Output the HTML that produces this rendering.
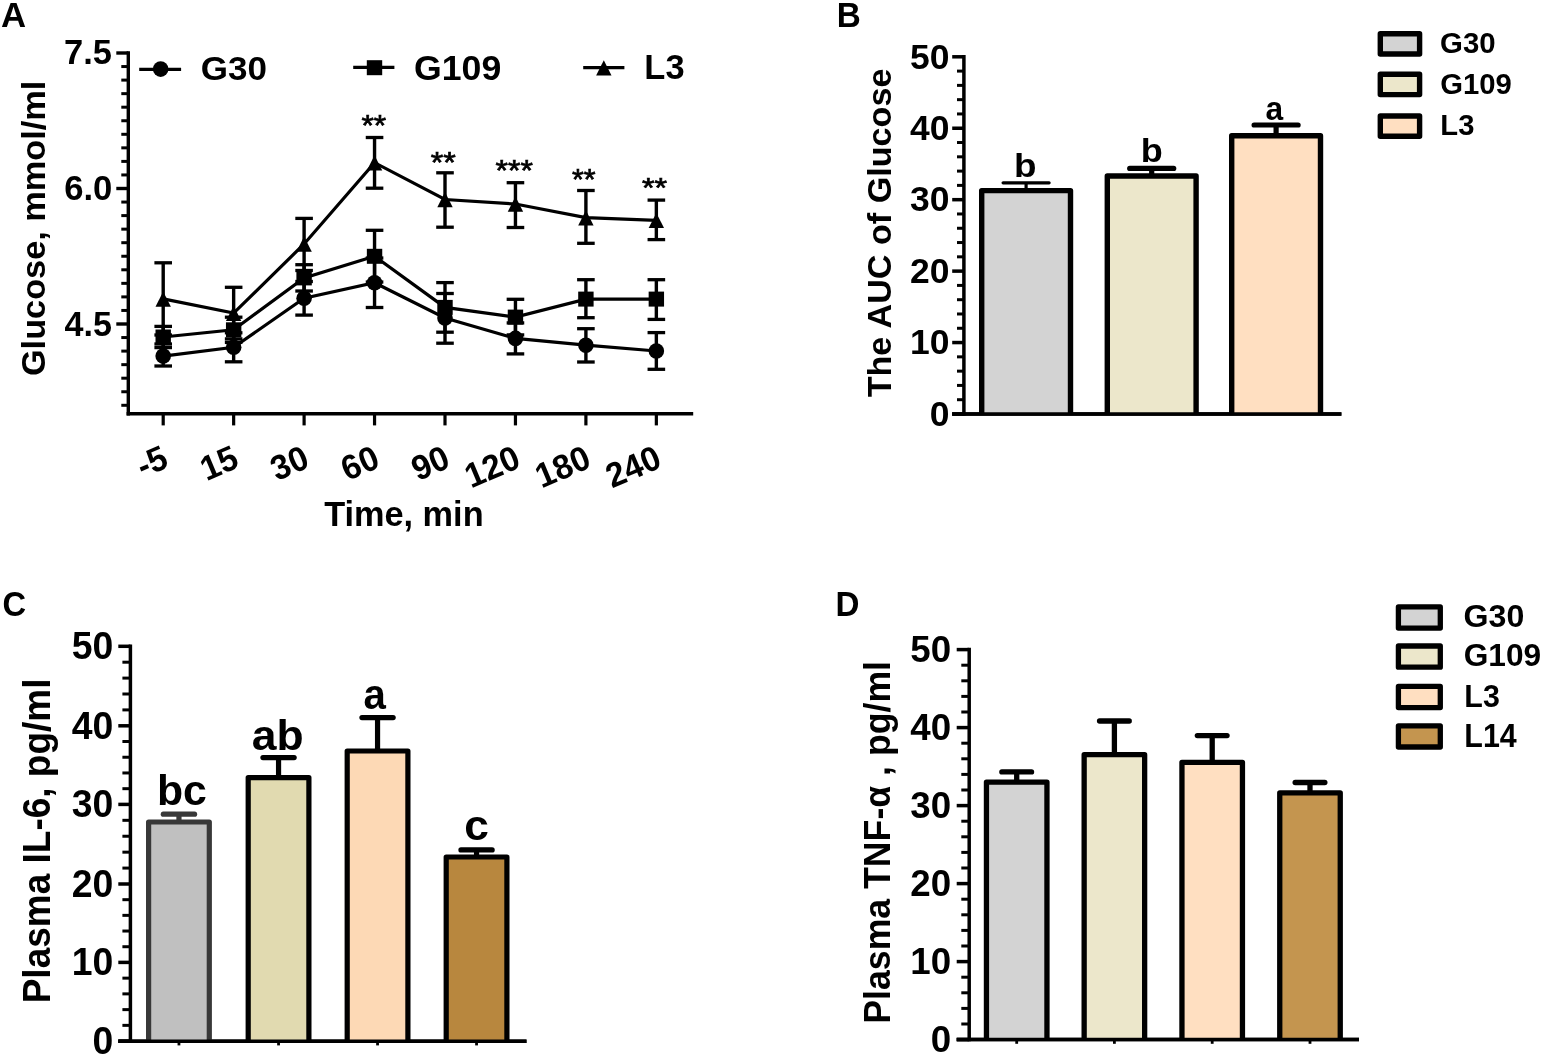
<!DOCTYPE html>
<html><head><meta charset="utf-8"><title>Figure</title>
<style>html,body{margin:0;padding:0;background:#fff}svg{display:block}text{font-family:"Liberation Sans",sans-serif}</style>
</head><body>
<svg width="1550" height="1064" viewBox="0 0 1550 1064">
<rect x="0" y="0" width="1550" height="1064" fill="#fff"/>
<text transform="translate(1.03,27.00) scale(0.9921,1)" font-weight="bold" font-size="35.05" fill="#000" >A</text>
<text transform="translate(836.65,27.00) scale(0.9493,1)" font-weight="bold" font-size="35.05" fill="#000" >B</text>
<text transform="translate(2.49,615.76) scale(0.9512,1)" font-weight="bold" font-size="34.35" fill="#000" >C</text>
<text transform="translate(835.56,616.10) scale(0.9377,1)" font-weight="bold" font-size="35.35" fill="#000" >D</text>
<line x1="128.30" y1="51.30" x2="128.30" y2="415.40" stroke="#000" stroke-width="3.4" stroke-linecap="butt"/>
<line x1="126.60" y1="413.70" x2="693.20" y2="413.70" stroke="#000" stroke-width="3.4" stroke-linecap="butt"/>
<line x1="116.30" y1="53.00" x2="128.30" y2="53.00" stroke="#000" stroke-width="3.4" stroke-linecap="butt"/>
<line x1="121.30" y1="66.55" x2="128.30" y2="66.55" stroke="#000" stroke-width="3.0" stroke-linecap="butt"/>
<line x1="121.30" y1="80.10" x2="128.30" y2="80.10" stroke="#000" stroke-width="3.0" stroke-linecap="butt"/>
<line x1="121.30" y1="93.65" x2="128.30" y2="93.65" stroke="#000" stroke-width="3.0" stroke-linecap="butt"/>
<line x1="121.30" y1="107.20" x2="128.30" y2="107.20" stroke="#000" stroke-width="3.0" stroke-linecap="butt"/>
<line x1="121.30" y1="120.75" x2="128.30" y2="120.75" stroke="#000" stroke-width="3.0" stroke-linecap="butt"/>
<line x1="121.30" y1="134.30" x2="128.30" y2="134.30" stroke="#000" stroke-width="3.0" stroke-linecap="butt"/>
<line x1="121.30" y1="147.85" x2="128.30" y2="147.85" stroke="#000" stroke-width="3.0" stroke-linecap="butt"/>
<line x1="121.30" y1="161.40" x2="128.30" y2="161.40" stroke="#000" stroke-width="3.0" stroke-linecap="butt"/>
<line x1="121.30" y1="174.95" x2="128.30" y2="174.95" stroke="#000" stroke-width="3.0" stroke-linecap="butt"/>
<line x1="116.30" y1="188.50" x2="128.30" y2="188.50" stroke="#000" stroke-width="3.4" stroke-linecap="butt"/>
<line x1="121.30" y1="202.05" x2="128.30" y2="202.05" stroke="#000" stroke-width="3.0" stroke-linecap="butt"/>
<line x1="121.30" y1="215.60" x2="128.30" y2="215.60" stroke="#000" stroke-width="3.0" stroke-linecap="butt"/>
<line x1="121.30" y1="229.15" x2="128.30" y2="229.15" stroke="#000" stroke-width="3.0" stroke-linecap="butt"/>
<line x1="121.30" y1="242.70" x2="128.30" y2="242.70" stroke="#000" stroke-width="3.0" stroke-linecap="butt"/>
<line x1="121.30" y1="256.25" x2="128.30" y2="256.25" stroke="#000" stroke-width="3.0" stroke-linecap="butt"/>
<line x1="121.30" y1="269.80" x2="128.30" y2="269.80" stroke="#000" stroke-width="3.0" stroke-linecap="butt"/>
<line x1="121.30" y1="283.35" x2="128.30" y2="283.35" stroke="#000" stroke-width="3.0" stroke-linecap="butt"/>
<line x1="121.30" y1="296.90" x2="128.30" y2="296.90" stroke="#000" stroke-width="3.0" stroke-linecap="butt"/>
<line x1="121.30" y1="310.45" x2="128.30" y2="310.45" stroke="#000" stroke-width="3.0" stroke-linecap="butt"/>
<line x1="116.30" y1="324.00" x2="128.30" y2="324.00" stroke="#000" stroke-width="3.4" stroke-linecap="butt"/>
<line x1="121.30" y1="337.55" x2="128.30" y2="337.55" stroke="#000" stroke-width="3.0" stroke-linecap="butt"/>
<line x1="121.30" y1="351.10" x2="128.30" y2="351.10" stroke="#000" stroke-width="3.0" stroke-linecap="butt"/>
<line x1="121.30" y1="364.65" x2="128.30" y2="364.65" stroke="#000" stroke-width="3.0" stroke-linecap="butt"/>
<line x1="121.30" y1="378.20" x2="128.30" y2="378.20" stroke="#000" stroke-width="3.0" stroke-linecap="butt"/>
<line x1="121.30" y1="391.75" x2="128.30" y2="391.75" stroke="#000" stroke-width="3.0" stroke-linecap="butt"/>
<line x1="121.30" y1="405.30" x2="128.30" y2="405.30" stroke="#000" stroke-width="3.0" stroke-linecap="butt"/>
<line x1="163.20" y1="413.70" x2="163.20" y2="425.40" stroke="#000" stroke-width="3.2" stroke-linecap="butt"/>
<line x1="233.65" y1="413.70" x2="233.65" y2="425.40" stroke="#000" stroke-width="3.2" stroke-linecap="butt"/>
<line x1="304.10" y1="413.70" x2="304.10" y2="425.40" stroke="#000" stroke-width="3.2" stroke-linecap="butt"/>
<line x1="374.55" y1="413.70" x2="374.55" y2="425.40" stroke="#000" stroke-width="3.2" stroke-linecap="butt"/>
<line x1="445.00" y1="413.70" x2="445.00" y2="425.40" stroke="#000" stroke-width="3.2" stroke-linecap="butt"/>
<line x1="515.45" y1="413.70" x2="515.45" y2="425.40" stroke="#000" stroke-width="3.2" stroke-linecap="butt"/>
<line x1="585.90" y1="413.70" x2="585.90" y2="425.40" stroke="#000" stroke-width="3.2" stroke-linecap="butt"/>
<line x1="656.35" y1="413.70" x2="656.35" y2="425.40" stroke="#000" stroke-width="3.2" stroke-linecap="butt"/>
<text transform="translate(64.04,64.34) scale(0.9695,1)" font-weight="bold" font-size="35.56" fill="#000" >7.5</text>
<text transform="translate(64.20,200.15) scale(0.9930,1)" font-weight="bold" font-size="34.91" fill="#000" >6.0</text>
<text transform="translate(64.49,335.65) scale(0.9640,1)" font-weight="bold" font-size="35.41" fill="#000" >4.5</text>
<text transform="translate(45.43,376.07) rotate(-90) scale(1,0.9539)" font-weight="bold" font-size="34.31">Glucose, mmol/ml</text>
<text transform="translate(324.16,526.18) scale(0.9995,1)" font-weight="bold" font-size="34.32" fill="#000" >Time, min</text>
<text transform="translate(170.20,466.60) rotate(-23) scale(0.97,1)" text-anchor="end" font-weight="bold" font-size="34.5">-5</text>
<text transform="translate(240.65,466.60) rotate(-23) scale(0.97,1)" text-anchor="end" font-weight="bold" font-size="34.5">15</text>
<text transform="translate(311.10,466.60) rotate(-23) scale(0.97,1)" text-anchor="end" font-weight="bold" font-size="34.5">30</text>
<text transform="translate(381.55,466.60) rotate(-23) scale(0.97,1)" text-anchor="end" font-weight="bold" font-size="34.5">60</text>
<text transform="translate(452.00,466.60) rotate(-23) scale(0.97,1)" text-anchor="end" font-weight="bold" font-size="34.5">90</text>
<text transform="translate(522.45,466.60) rotate(-23) scale(0.97,1)" text-anchor="end" font-weight="bold" font-size="34.5">120</text>
<text transform="translate(592.90,466.60) rotate(-23) scale(0.97,1)" text-anchor="end" font-weight="bold" font-size="34.5">180</text>
<text transform="translate(663.35,466.60) rotate(-23) scale(0.97,1)" text-anchor="end" font-weight="bold" font-size="34.5">240</text>
<polyline fill="none" stroke="#000" stroke-width="3.2" points="163.20,356.10 233.65,347.30 304.10,298.30 374.55,282.80 445.00,318.00 515.45,338.40 585.90,345.20 656.35,351.00"/>
<line x1="163.20" y1="344.00" x2="163.20" y2="366.00" stroke="#000" stroke-width="3.4" stroke-linecap="butt"/>
<line x1="154.40" y1="344.00" x2="172.00" y2="344.00" stroke="#000" stroke-width="3.3" stroke-linecap="butt"/>
<line x1="154.40" y1="366.00" x2="172.00" y2="366.00" stroke="#000" stroke-width="3.3" stroke-linecap="butt"/>
<circle cx="163.20" cy="356.10" r="7.8"/>
<line x1="233.65" y1="332.80" x2="233.65" y2="361.80" stroke="#000" stroke-width="3.4" stroke-linecap="butt"/>
<line x1="224.85" y1="332.80" x2="242.45" y2="332.80" stroke="#000" stroke-width="3.3" stroke-linecap="butt"/>
<line x1="224.85" y1="361.80" x2="242.45" y2="361.80" stroke="#000" stroke-width="3.3" stroke-linecap="butt"/>
<circle cx="233.65" cy="347.30" r="7.8"/>
<line x1="304.10" y1="281.50" x2="304.10" y2="315.10" stroke="#000" stroke-width="3.4" stroke-linecap="butt"/>
<line x1="295.30" y1="281.50" x2="312.90" y2="281.50" stroke="#000" stroke-width="3.3" stroke-linecap="butt"/>
<line x1="295.30" y1="315.10" x2="312.90" y2="315.10" stroke="#000" stroke-width="3.3" stroke-linecap="butt"/>
<circle cx="304.10" cy="298.30" r="7.8"/>
<line x1="374.55" y1="258.00" x2="374.55" y2="307.50" stroke="#000" stroke-width="3.4" stroke-linecap="butt"/>
<line x1="365.75" y1="258.00" x2="383.35" y2="258.00" stroke="#000" stroke-width="3.3" stroke-linecap="butt"/>
<line x1="365.75" y1="307.50" x2="383.35" y2="307.50" stroke="#000" stroke-width="3.3" stroke-linecap="butt"/>
<circle cx="374.55" cy="282.80" r="7.8"/>
<line x1="445.00" y1="293.50" x2="445.00" y2="343.20" stroke="#000" stroke-width="3.4" stroke-linecap="butt"/>
<line x1="436.20" y1="293.50" x2="453.80" y2="293.50" stroke="#000" stroke-width="3.3" stroke-linecap="butt"/>
<line x1="436.20" y1="343.20" x2="453.80" y2="343.20" stroke="#000" stroke-width="3.3" stroke-linecap="butt"/>
<circle cx="445.00" cy="318.00" r="7.8"/>
<line x1="515.45" y1="322.90" x2="515.45" y2="353.90" stroke="#000" stroke-width="3.4" stroke-linecap="butt"/>
<line x1="506.65" y1="322.90" x2="524.25" y2="322.90" stroke="#000" stroke-width="3.3" stroke-linecap="butt"/>
<line x1="506.65" y1="353.90" x2="524.25" y2="353.90" stroke="#000" stroke-width="3.3" stroke-linecap="butt"/>
<circle cx="515.45" cy="338.40" r="7.8"/>
<line x1="585.90" y1="328.70" x2="585.90" y2="362.00" stroke="#000" stroke-width="3.4" stroke-linecap="butt"/>
<line x1="577.10" y1="328.70" x2="594.70" y2="328.70" stroke="#000" stroke-width="3.3" stroke-linecap="butt"/>
<line x1="577.10" y1="362.00" x2="594.70" y2="362.00" stroke="#000" stroke-width="3.3" stroke-linecap="butt"/>
<circle cx="585.90" cy="345.20" r="7.8"/>
<line x1="656.35" y1="332.60" x2="656.35" y2="369.30" stroke="#000" stroke-width="3.4" stroke-linecap="butt"/>
<line x1="647.55" y1="332.60" x2="665.15" y2="332.60" stroke="#000" stroke-width="3.3" stroke-linecap="butt"/>
<line x1="647.55" y1="369.30" x2="665.15" y2="369.30" stroke="#000" stroke-width="3.3" stroke-linecap="butt"/>
<circle cx="656.35" cy="351.00" r="7.8"/>
<polyline fill="none" stroke="#000" stroke-width="3.2" points="163.20,337.00 233.65,329.80 304.10,277.90 374.55,256.30 445.00,307.40 515.45,317.10 585.90,299.10 656.35,299.10"/>
<line x1="163.20" y1="326.40" x2="163.20" y2="347.60" stroke="#000" stroke-width="3.4" stroke-linecap="butt"/>
<line x1="154.40" y1="326.40" x2="172.00" y2="326.40" stroke="#000" stroke-width="3.3" stroke-linecap="butt"/>
<line x1="154.40" y1="347.60" x2="172.00" y2="347.60" stroke="#000" stroke-width="3.3" stroke-linecap="butt"/>
<rect x="155.50" y="329.50" width="15.4" height="15"/>
<line x1="233.65" y1="317.20" x2="233.65" y2="342.40" stroke="#000" stroke-width="3.4" stroke-linecap="butt"/>
<line x1="224.85" y1="317.20" x2="242.45" y2="317.20" stroke="#000" stroke-width="3.3" stroke-linecap="butt"/>
<line x1="224.85" y1="342.40" x2="242.45" y2="342.40" stroke="#000" stroke-width="3.3" stroke-linecap="butt"/>
<rect x="225.95" y="322.30" width="15.4" height="15"/>
<line x1="304.10" y1="264.70" x2="304.10" y2="291.00" stroke="#000" stroke-width="3.4" stroke-linecap="butt"/>
<line x1="295.30" y1="264.70" x2="312.90" y2="264.70" stroke="#000" stroke-width="3.3" stroke-linecap="butt"/>
<line x1="295.30" y1="291.00" x2="312.90" y2="291.00" stroke="#000" stroke-width="3.3" stroke-linecap="butt"/>
<rect x="296.40" y="270.40" width="15.4" height="15"/>
<line x1="374.55" y1="230.30" x2="374.55" y2="282.00" stroke="#000" stroke-width="3.4" stroke-linecap="butt"/>
<line x1="365.75" y1="230.30" x2="383.35" y2="230.30" stroke="#000" stroke-width="3.3" stroke-linecap="butt"/>
<line x1="365.75" y1="282.00" x2="383.35" y2="282.00" stroke="#000" stroke-width="3.3" stroke-linecap="butt"/>
<rect x="366.85" y="248.80" width="15.4" height="15"/>
<line x1="445.00" y1="282.60" x2="445.00" y2="332.20" stroke="#000" stroke-width="3.4" stroke-linecap="butt"/>
<line x1="436.20" y1="282.60" x2="453.80" y2="282.60" stroke="#000" stroke-width="3.3" stroke-linecap="butt"/>
<line x1="436.20" y1="332.20" x2="453.80" y2="332.20" stroke="#000" stroke-width="3.3" stroke-linecap="butt"/>
<rect x="437.30" y="299.90" width="15.4" height="15"/>
<line x1="515.45" y1="299.30" x2="515.45" y2="334.90" stroke="#000" stroke-width="3.4" stroke-linecap="butt"/>
<line x1="506.65" y1="299.30" x2="524.25" y2="299.30" stroke="#000" stroke-width="3.3" stroke-linecap="butt"/>
<line x1="506.65" y1="334.90" x2="524.25" y2="334.90" stroke="#000" stroke-width="3.3" stroke-linecap="butt"/>
<rect x="507.75" y="309.60" width="15.4" height="15"/>
<line x1="585.90" y1="279.70" x2="585.90" y2="317.70" stroke="#000" stroke-width="3.4" stroke-linecap="butt"/>
<line x1="577.10" y1="279.70" x2="594.70" y2="279.70" stroke="#000" stroke-width="3.3" stroke-linecap="butt"/>
<line x1="577.10" y1="317.70" x2="594.70" y2="317.70" stroke="#000" stroke-width="3.3" stroke-linecap="butt"/>
<rect x="578.20" y="291.60" width="15.4" height="15"/>
<line x1="656.35" y1="279.70" x2="656.35" y2="319.40" stroke="#000" stroke-width="3.4" stroke-linecap="butt"/>
<line x1="647.55" y1="279.70" x2="665.15" y2="279.70" stroke="#000" stroke-width="3.3" stroke-linecap="butt"/>
<line x1="647.55" y1="319.40" x2="665.15" y2="319.40" stroke="#000" stroke-width="3.3" stroke-linecap="butt"/>
<rect x="648.65" y="291.60" width="15.4" height="15"/>
<polyline fill="none" stroke="#000" stroke-width="3.2" points="163.20,298.90 233.65,313.10 304.10,244.00 374.55,162.70 445.00,199.50 515.45,204.00 585.90,217.60 656.35,220.30"/>
<line x1="163.20" y1="262.80" x2="163.20" y2="335.00" stroke="#000" stroke-width="3.4" stroke-linecap="butt"/>
<line x1="154.40" y1="262.80" x2="172.00" y2="262.80" stroke="#000" stroke-width="3.3" stroke-linecap="butt"/>
<line x1="154.40" y1="335.00" x2="172.00" y2="335.00" stroke="#000" stroke-width="3.3" stroke-linecap="butt"/>
<polygon points="163.20,291.50 170.90,306.70 155.50,306.70"/>
<line x1="233.65" y1="287.30" x2="233.65" y2="338.90" stroke="#000" stroke-width="3.4" stroke-linecap="butt"/>
<line x1="224.85" y1="287.30" x2="242.45" y2="287.30" stroke="#000" stroke-width="3.3" stroke-linecap="butt"/>
<line x1="224.85" y1="338.90" x2="242.45" y2="338.90" stroke="#000" stroke-width="3.3" stroke-linecap="butt"/>
<polygon points="233.65,305.70 241.35,320.90 225.95,320.90"/>
<line x1="304.10" y1="218.40" x2="304.10" y2="270.50" stroke="#000" stroke-width="3.4" stroke-linecap="butt"/>
<line x1="295.30" y1="218.40" x2="312.90" y2="218.40" stroke="#000" stroke-width="3.3" stroke-linecap="butt"/>
<line x1="295.30" y1="270.50" x2="312.90" y2="270.50" stroke="#000" stroke-width="3.3" stroke-linecap="butt"/>
<polygon points="304.10,236.60 311.80,251.80 296.40,251.80"/>
<line x1="374.55" y1="137.50" x2="374.55" y2="188.20" stroke="#000" stroke-width="3.4" stroke-linecap="butt"/>
<line x1="365.75" y1="137.50" x2="383.35" y2="137.50" stroke="#000" stroke-width="3.3" stroke-linecap="butt"/>
<line x1="365.75" y1="188.20" x2="383.35" y2="188.20" stroke="#000" stroke-width="3.3" stroke-linecap="butt"/>
<polygon points="374.55,155.30 382.25,170.50 366.85,170.50"/>
<line x1="445.00" y1="172.80" x2="445.00" y2="227.20" stroke="#000" stroke-width="3.4" stroke-linecap="butt"/>
<line x1="436.20" y1="172.80" x2="453.80" y2="172.80" stroke="#000" stroke-width="3.3" stroke-linecap="butt"/>
<line x1="436.20" y1="227.20" x2="453.80" y2="227.20" stroke="#000" stroke-width="3.3" stroke-linecap="butt"/>
<polygon points="445.00,192.10 452.70,207.30 437.30,207.30"/>
<line x1="515.45" y1="182.70" x2="515.45" y2="227.50" stroke="#000" stroke-width="3.4" stroke-linecap="butt"/>
<line x1="506.65" y1="182.70" x2="524.25" y2="182.70" stroke="#000" stroke-width="3.3" stroke-linecap="butt"/>
<line x1="506.65" y1="227.50" x2="524.25" y2="227.50" stroke="#000" stroke-width="3.3" stroke-linecap="butt"/>
<polygon points="515.45,196.60 523.15,211.80 507.75,211.80"/>
<line x1="585.90" y1="190.50" x2="585.90" y2="243.30" stroke="#000" stroke-width="3.4" stroke-linecap="butt"/>
<line x1="577.10" y1="190.50" x2="594.70" y2="190.50" stroke="#000" stroke-width="3.3" stroke-linecap="butt"/>
<line x1="577.10" y1="243.30" x2="594.70" y2="243.30" stroke="#000" stroke-width="3.3" stroke-linecap="butt"/>
<polygon points="585.90,210.20 593.60,225.40 578.20,225.40"/>
<line x1="656.35" y1="200.10" x2="656.35" y2="239.60" stroke="#000" stroke-width="3.4" stroke-linecap="butt"/>
<line x1="647.55" y1="200.10" x2="665.15" y2="200.10" stroke="#000" stroke-width="3.3" stroke-linecap="butt"/>
<line x1="647.55" y1="239.60" x2="665.15" y2="239.60" stroke="#000" stroke-width="3.3" stroke-linecap="butt"/>
<polygon points="656.35,212.90 664.05,228.10 648.65,228.10"/>
<line x1="139.20" y1="69.30" x2="181.10" y2="69.30" stroke="#000" stroke-width="3.2" stroke-linecap="butt"/>
<circle cx="160.65" cy="69.10" r="7.8"/>
<line x1="353.20" y1="67.40" x2="394.40" y2="67.40" stroke="#000" stroke-width="3.2" stroke-linecap="butt"/>
<rect x="366.80" y="60.20" width="15.4" height="15"/>
<line x1="583.20" y1="67.60" x2="624.40" y2="67.60" stroke="#000" stroke-width="3.2" stroke-linecap="butt"/>
<polygon points="603.80,60.30 611.50,75.50 596.10,75.50"/>
<text transform="translate(200.80,80.37) scale(1.0277,1)" font-weight="bold" font-size="34.08" fill="#000" >G30</text>
<text transform="translate(414.07,79.65) scale(1.0171,1)" font-weight="bold" font-size="35.05" fill="#000" >G109</text>
<text transform="translate(644.37,79.47) scale(1.0065,1)" font-weight="bold" font-size="34.23" fill="#000" >L3</text>
<text transform="translate(361.44,134.83) scale(1.0706,1)" font-size="29.71" fill="#000" stroke="#000" stroke-width="0.7">**</text>
<text transform="translate(430.64,171.53) scale(1.0947,1)" font-size="29.43" fill="#000" stroke="#000" stroke-width="0.7">**</text>
<text transform="translate(495.54,180.03) scale(1.0862,1)" font-size="29.43" fill="#000" stroke="#000" stroke-width="0.7">***</text>
<text transform="translate(572.07,188.93) scale(1.0112,1)" font-size="30.00" fill="#000" stroke="#000" stroke-width="0.7">**</text>
<text transform="translate(641.93,197.35) scale(1.1437,1)" font-size="28.29" fill="#000" stroke="#000" stroke-width="0.7">**</text>
<line x1="963.90" y1="55.05" x2="963.90" y2="415.75" stroke="#000" stroke-width="3.5" stroke-linecap="butt"/>
<line x1="952.20" y1="414.00" x2="1341.40" y2="414.00" stroke="#000" stroke-width="3.5" stroke-linecap="butt"/>
<line x1="952.20" y1="414.00" x2="963.90" y2="414.00" stroke="#000" stroke-width="3.5" stroke-linecap="butt"/>
<line x1="957.00" y1="399.71" x2="963.90" y2="399.71" stroke="#000" stroke-width="3.0" stroke-linecap="butt"/>
<line x1="957.00" y1="385.42" x2="963.90" y2="385.42" stroke="#000" stroke-width="3.0" stroke-linecap="butt"/>
<line x1="957.00" y1="371.14" x2="963.90" y2="371.14" stroke="#000" stroke-width="3.0" stroke-linecap="butt"/>
<line x1="957.00" y1="356.85" x2="963.90" y2="356.85" stroke="#000" stroke-width="3.0" stroke-linecap="butt"/>
<line x1="952.20" y1="342.56" x2="963.90" y2="342.56" stroke="#000" stroke-width="3.5" stroke-linecap="butt"/>
<line x1="957.00" y1="328.27" x2="963.90" y2="328.27" stroke="#000" stroke-width="3.0" stroke-linecap="butt"/>
<line x1="957.00" y1="313.98" x2="963.90" y2="313.98" stroke="#000" stroke-width="3.0" stroke-linecap="butt"/>
<line x1="957.00" y1="299.70" x2="963.90" y2="299.70" stroke="#000" stroke-width="3.0" stroke-linecap="butt"/>
<line x1="957.00" y1="285.41" x2="963.90" y2="285.41" stroke="#000" stroke-width="3.0" stroke-linecap="butt"/>
<line x1="952.20" y1="271.12" x2="963.90" y2="271.12" stroke="#000" stroke-width="3.5" stroke-linecap="butt"/>
<line x1="957.00" y1="256.83" x2="963.90" y2="256.83" stroke="#000" stroke-width="3.0" stroke-linecap="butt"/>
<line x1="957.00" y1="242.54" x2="963.90" y2="242.54" stroke="#000" stroke-width="3.0" stroke-linecap="butt"/>
<line x1="957.00" y1="228.26" x2="963.90" y2="228.26" stroke="#000" stroke-width="3.0" stroke-linecap="butt"/>
<line x1="957.00" y1="213.97" x2="963.90" y2="213.97" stroke="#000" stroke-width="3.0" stroke-linecap="butt"/>
<line x1="952.20" y1="199.68" x2="963.90" y2="199.68" stroke="#000" stroke-width="3.5" stroke-linecap="butt"/>
<line x1="957.00" y1="185.39" x2="963.90" y2="185.39" stroke="#000" stroke-width="3.0" stroke-linecap="butt"/>
<line x1="957.00" y1="171.10" x2="963.90" y2="171.10" stroke="#000" stroke-width="3.0" stroke-linecap="butt"/>
<line x1="957.00" y1="156.82" x2="963.90" y2="156.82" stroke="#000" stroke-width="3.0" stroke-linecap="butt"/>
<line x1="957.00" y1="142.53" x2="963.90" y2="142.53" stroke="#000" stroke-width="3.0" stroke-linecap="butt"/>
<line x1="952.20" y1="128.24" x2="963.90" y2="128.24" stroke="#000" stroke-width="3.5" stroke-linecap="butt"/>
<line x1="957.00" y1="113.95" x2="963.90" y2="113.95" stroke="#000" stroke-width="3.0" stroke-linecap="butt"/>
<line x1="957.00" y1="99.66" x2="963.90" y2="99.66" stroke="#000" stroke-width="3.0" stroke-linecap="butt"/>
<line x1="957.00" y1="85.38" x2="963.90" y2="85.38" stroke="#000" stroke-width="3.0" stroke-linecap="butt"/>
<line x1="957.00" y1="71.09" x2="963.90" y2="71.09" stroke="#000" stroke-width="3.0" stroke-linecap="butt"/>
<line x1="952.20" y1="56.80" x2="963.90" y2="56.80" stroke="#000" stroke-width="3.5" stroke-linecap="butt"/>
<line x1="1026.10" y1="182.80" x2="1026.10" y2="190.60" stroke="#000" stroke-width="3.2" stroke-linecap="butt"/>
<line x1="1003.10" y1="182.80" x2="1049.10" y2="182.80" stroke="#000" stroke-width="3.2" stroke-linecap="round"/>
<rect x="981.70" y="190.60" width="88.80" height="223.40" fill="#d3d3d3"/>
<path d="M981.70,414.00 V190.60 H1070.50 V414.00" fill="none" stroke="#000" stroke-width="5.4" stroke-linejoin="round"/>
<line x1="1151.70" y1="168.40" x2="1151.70" y2="176.00" stroke="#000" stroke-width="5.2" stroke-linecap="butt"/>
<line x1="1129.70" y1="168.40" x2="1173.70" y2="168.40" stroke="#000" stroke-width="5.2" stroke-linecap="round"/>
<rect x="1107.30" y="176.00" width="88.80" height="238.00" fill="#ece7cb"/>
<path d="M1107.30,414.00 V176.00 H1196.10 V414.00" fill="none" stroke="#000" stroke-width="5.4" stroke-linejoin="round"/>
<line x1="1276.10" y1="125.00" x2="1276.10" y2="135.80" stroke="#000" stroke-width="5.2" stroke-linecap="butt"/>
<line x1="1254.10" y1="125.00" x2="1298.10" y2="125.00" stroke="#000" stroke-width="5.2" stroke-linecap="round"/>
<rect x="1231.70" y="135.80" width="88.80" height="278.20" fill="#ffdfc1"/>
<path d="M1231.70,414.00 V135.80 H1320.50 V414.00" fill="none" stroke="#000" stroke-width="5.4" stroke-linejoin="round"/>
<line x1="952.20" y1="414.00" x2="1341.40" y2="414.00" stroke="#000" stroke-width="3.5" stroke-linecap="butt"/>
<text transform="translate(949.36,425.75) scale(1.0204,1)" text-anchor="end" font-weight="bold" font-size="34.77">0</text>
<text transform="translate(949.40,354.31) scale(1.0204,1)" text-anchor="end" font-weight="bold" font-size="34.77">10</text>
<text transform="translate(949.40,282.87) scale(1.0204,1)" text-anchor="end" font-weight="bold" font-size="34.77">20</text>
<text transform="translate(949.40,211.43) scale(1.0204,1)" text-anchor="end" font-weight="bold" font-size="34.77">30</text>
<text transform="translate(949.40,139.99) scale(1.0204,1)" text-anchor="end" font-weight="bold" font-size="34.77">40</text>
<text transform="translate(949.40,68.55) scale(1.0204,1)" text-anchor="end" font-weight="bold" font-size="34.77">50</text>
<text transform="translate(891.06,397.34) rotate(-90) scale(1,0.9921)" font-weight="bold" font-size="34.15">The AUC of Glucose</text>
<text transform="translate(1014.01,176.56) scale(1.0916,1)" font-weight="bold" font-size="33.74" fill="#000" >b</text>
<text transform="translate(1140.76,162.06) scale(1.0724,1)" font-weight="bold" font-size="33.61" fill="#000" >b</text>
<text transform="translate(1265.45,119.67) scale(0.9707,1)" font-weight="bold" font-size="32.69" fill="#000" >a</text>
<rect x="1380.30" y="33.70" width="39.30" height="20.30" fill="#d3d3d3" stroke="#000" stroke-width="5.4" stroke-linejoin="round"/>
<text transform="translate(1440.12,53.03) scale(0.9844,1)" font-weight="bold" font-size="29.86" fill="#000" >G30</text>
<rect x="1380.30" y="74.30" width="39.30" height="20.30" fill="#ece7cb" stroke="#000" stroke-width="5.4" stroke-linejoin="round"/>
<text transform="translate(1440.13,93.70) scale(0.9772,1)" font-weight="bold" font-size="29.96" fill="#000" >G109</text>
<rect x="1380.30" y="116.00" width="39.30" height="20.30" fill="#ffdfc1" stroke="#000" stroke-width="5.4" stroke-linejoin="round"/>
<text transform="translate(1440.33,135.33) scale(0.9771,1)" font-weight="bold" font-size="29.86" fill="#000" >L3</text>
<line x1="130.40" y1="644.45" x2="130.40" y2="1042.95" stroke="#000" stroke-width="3.5" stroke-linecap="butt"/>
<line x1="118.30" y1="1041.20" x2="526.50" y2="1041.20" stroke="#000" stroke-width="3.5" stroke-linecap="butt"/>
<line x1="118.30" y1="1041.10" x2="130.40" y2="1041.10" stroke="#000" stroke-width="3.5" stroke-linecap="butt"/>
<line x1="122.40" y1="1025.36" x2="130.40" y2="1025.36" stroke="#000" stroke-width="3.0" stroke-linecap="butt"/>
<line x1="122.40" y1="1009.62" x2="130.40" y2="1009.62" stroke="#000" stroke-width="3.0" stroke-linecap="butt"/>
<line x1="122.40" y1="993.88" x2="130.40" y2="993.88" stroke="#000" stroke-width="3.0" stroke-linecap="butt"/>
<line x1="122.40" y1="978.14" x2="130.40" y2="978.14" stroke="#000" stroke-width="3.0" stroke-linecap="butt"/>
<line x1="118.30" y1="962.40" x2="130.40" y2="962.40" stroke="#000" stroke-width="3.5" stroke-linecap="butt"/>
<line x1="122.40" y1="946.72" x2="130.40" y2="946.72" stroke="#000" stroke-width="3.0" stroke-linecap="butt"/>
<line x1="122.40" y1="931.04" x2="130.40" y2="931.04" stroke="#000" stroke-width="3.0" stroke-linecap="butt"/>
<line x1="122.40" y1="915.36" x2="130.40" y2="915.36" stroke="#000" stroke-width="3.0" stroke-linecap="butt"/>
<line x1="122.40" y1="899.68" x2="130.40" y2="899.68" stroke="#000" stroke-width="3.0" stroke-linecap="butt"/>
<line x1="118.30" y1="884.00" x2="130.40" y2="884.00" stroke="#000" stroke-width="3.5" stroke-linecap="butt"/>
<line x1="122.40" y1="868.08" x2="130.40" y2="868.08" stroke="#000" stroke-width="3.0" stroke-linecap="butt"/>
<line x1="122.40" y1="852.16" x2="130.40" y2="852.16" stroke="#000" stroke-width="3.0" stroke-linecap="butt"/>
<line x1="122.40" y1="836.24" x2="130.40" y2="836.24" stroke="#000" stroke-width="3.0" stroke-linecap="butt"/>
<line x1="122.40" y1="820.32" x2="130.40" y2="820.32" stroke="#000" stroke-width="3.0" stroke-linecap="butt"/>
<line x1="118.30" y1="804.40" x2="130.40" y2="804.40" stroke="#000" stroke-width="3.5" stroke-linecap="butt"/>
<line x1="122.40" y1="788.68" x2="130.40" y2="788.68" stroke="#000" stroke-width="3.0" stroke-linecap="butt"/>
<line x1="122.40" y1="772.96" x2="130.40" y2="772.96" stroke="#000" stroke-width="3.0" stroke-linecap="butt"/>
<line x1="122.40" y1="757.24" x2="130.40" y2="757.24" stroke="#000" stroke-width="3.0" stroke-linecap="butt"/>
<line x1="122.40" y1="741.52" x2="130.40" y2="741.52" stroke="#000" stroke-width="3.0" stroke-linecap="butt"/>
<line x1="118.30" y1="725.80" x2="130.40" y2="725.80" stroke="#000" stroke-width="3.5" stroke-linecap="butt"/>
<line x1="122.40" y1="709.90" x2="130.40" y2="709.90" stroke="#000" stroke-width="3.0" stroke-linecap="butt"/>
<line x1="122.40" y1="694.00" x2="130.40" y2="694.00" stroke="#000" stroke-width="3.0" stroke-linecap="butt"/>
<line x1="122.40" y1="678.10" x2="130.40" y2="678.10" stroke="#000" stroke-width="3.0" stroke-linecap="butt"/>
<line x1="122.40" y1="662.20" x2="130.40" y2="662.20" stroke="#000" stroke-width="3.0" stroke-linecap="butt"/>
<line x1="118.30" y1="646.30" x2="130.40" y2="646.30" stroke="#000" stroke-width="3.5" stroke-linecap="butt"/>
<line x1="178.95" y1="814.20" x2="178.95" y2="822.00" stroke="#383838" stroke-width="5.2" stroke-linecap="butt"/>
<line x1="163.35" y1="814.20" x2="194.55" y2="814.20" stroke="#383838" stroke-width="5.2" stroke-linecap="round"/>
<rect x="148.60" y="822.00" width="60.70" height="219.20" fill="#c0c0c0"/>
<path d="M148.60,1041.20 V822.00 H209.30 V1041.20" fill="none" stroke="#383838" stroke-width="5.2" stroke-linejoin="round"/>
<line x1="178.95" y1="1041.20" x2="178.95" y2="1045.40" stroke="#000" stroke-width="2.8" stroke-linecap="butt"/>
<line x1="278.55" y1="757.60" x2="278.55" y2="777.60" stroke="#000" stroke-width="5.2" stroke-linecap="butt"/>
<line x1="262.95" y1="757.60" x2="294.15" y2="757.60" stroke="#000" stroke-width="5.2" stroke-linecap="round"/>
<rect x="248.20" y="777.60" width="60.70" height="263.60" fill="#e1dab0"/>
<path d="M248.20,1041.20 V777.60 H308.90 V1041.20" fill="none" stroke="#000" stroke-width="5.2" stroke-linejoin="round"/>
<line x1="278.55" y1="1041.20" x2="278.55" y2="1045.40" stroke="#000" stroke-width="2.8" stroke-linecap="butt"/>
<line x1="377.55" y1="717.60" x2="377.55" y2="751.00" stroke="#000" stroke-width="5.2" stroke-linecap="butt"/>
<line x1="361.95" y1="717.60" x2="393.15" y2="717.60" stroke="#000" stroke-width="5.2" stroke-linecap="round"/>
<rect x="347.20" y="751.00" width="60.70" height="290.20" fill="#fdd9b5"/>
<path d="M347.20,1041.20 V751.00 H407.90 V1041.20" fill="none" stroke="#000" stroke-width="5.2" stroke-linejoin="round"/>
<line x1="377.55" y1="1041.20" x2="377.55" y2="1045.40" stroke="#000" stroke-width="2.8" stroke-linecap="butt"/>
<line x1="476.55" y1="849.90" x2="476.55" y2="857.00" stroke="#000" stroke-width="5.2" stroke-linecap="butt"/>
<line x1="460.95" y1="849.90" x2="492.15" y2="849.90" stroke="#000" stroke-width="5.2" stroke-linecap="round"/>
<rect x="446.20" y="857.00" width="60.70" height="184.20" fill="#b8873e"/>
<path d="M446.20,1041.20 V857.00 H506.90 V1041.20" fill="none" stroke="#000" stroke-width="5.2" stroke-linejoin="round"/>
<line x1="476.55" y1="1041.20" x2="476.55" y2="1045.40" stroke="#000" stroke-width="2.8" stroke-linecap="butt"/>
<line x1="118.30" y1="1041.20" x2="526.50" y2="1041.20" stroke="#000" stroke-width="3.5" stroke-linecap="butt"/>
<text transform="translate(113.24,1053.82) scale(0.9834,1)" text-anchor="end" font-weight="bold" font-size="38.02">0</text>
<text transform="translate(113.28,975.12) scale(0.9834,1)" text-anchor="end" font-weight="bold" font-size="38.02">10</text>
<text transform="translate(113.28,896.72) scale(0.9834,1)" text-anchor="end" font-weight="bold" font-size="38.02">20</text>
<text transform="translate(113.28,817.12) scale(0.9834,1)" text-anchor="end" font-weight="bold" font-size="38.02">30</text>
<text transform="translate(113.28,738.52) scale(0.9834,1)" text-anchor="end" font-weight="bold" font-size="38.02">40</text>
<text transform="translate(113.28,659.02) scale(0.9834,1)" text-anchor="end" font-weight="bold" font-size="38.02">50</text>
<text transform="translate(50.11,1003.30) rotate(-90) scale(1,1.0291)" font-weight="bold" font-size="37.00">Plasma IL-6, pg/ml</text>
<text transform="translate(156.92,804.87) scale(1.0018,1)" font-weight="bold" font-size="42.72" fill="#000" >bc</text>
<text transform="translate(251.87,750.17) scale(1.0411,1)" font-weight="bold" font-size="42.72" fill="#000" >ab</text>
<text transform="translate(363.39,708.98) scale(0.9484,1)" font-weight="bold" font-size="42.37" fill="#000" >a</text>
<text transform="translate(464.33,840.17) scale(1.0323,1)" font-weight="bold" font-size="42.92" fill="#000" >c</text>
<line x1="969.20" y1="647.85" x2="969.20" y2="1041.35" stroke="#000" stroke-width="3.5" stroke-linecap="butt"/>
<line x1="956.70" y1="1039.60" x2="1359.00" y2="1039.60" stroke="#000" stroke-width="3.5" stroke-linecap="butt"/>
<line x1="956.70" y1="1039.60" x2="969.20" y2="1039.60" stroke="#000" stroke-width="3.5" stroke-linecap="butt"/>
<line x1="961.30" y1="1024.00" x2="969.20" y2="1024.00" stroke="#000" stroke-width="3.0" stroke-linecap="butt"/>
<line x1="961.30" y1="1008.40" x2="969.20" y2="1008.40" stroke="#000" stroke-width="3.0" stroke-linecap="butt"/>
<line x1="961.30" y1="992.80" x2="969.20" y2="992.80" stroke="#000" stroke-width="3.0" stroke-linecap="butt"/>
<line x1="961.30" y1="977.20" x2="969.20" y2="977.20" stroke="#000" stroke-width="3.0" stroke-linecap="butt"/>
<line x1="956.70" y1="961.60" x2="969.20" y2="961.60" stroke="#000" stroke-width="3.5" stroke-linecap="butt"/>
<line x1="961.30" y1="946.00" x2="969.20" y2="946.00" stroke="#000" stroke-width="3.0" stroke-linecap="butt"/>
<line x1="961.30" y1="930.40" x2="969.20" y2="930.40" stroke="#000" stroke-width="3.0" stroke-linecap="butt"/>
<line x1="961.30" y1="914.80" x2="969.20" y2="914.80" stroke="#000" stroke-width="3.0" stroke-linecap="butt"/>
<line x1="961.30" y1="899.20" x2="969.20" y2="899.20" stroke="#000" stroke-width="3.0" stroke-linecap="butt"/>
<line x1="956.70" y1="883.60" x2="969.20" y2="883.60" stroke="#000" stroke-width="3.5" stroke-linecap="butt"/>
<line x1="961.30" y1="868.00" x2="969.20" y2="868.00" stroke="#000" stroke-width="3.0" stroke-linecap="butt"/>
<line x1="961.30" y1="852.40" x2="969.20" y2="852.40" stroke="#000" stroke-width="3.0" stroke-linecap="butt"/>
<line x1="961.30" y1="836.80" x2="969.20" y2="836.80" stroke="#000" stroke-width="3.0" stroke-linecap="butt"/>
<line x1="961.30" y1="821.20" x2="969.20" y2="821.20" stroke="#000" stroke-width="3.0" stroke-linecap="butt"/>
<line x1="956.70" y1="805.60" x2="969.20" y2="805.60" stroke="#000" stroke-width="3.5" stroke-linecap="butt"/>
<line x1="961.30" y1="790.00" x2="969.20" y2="790.00" stroke="#000" stroke-width="3.0" stroke-linecap="butt"/>
<line x1="961.30" y1="774.40" x2="969.20" y2="774.40" stroke="#000" stroke-width="3.0" stroke-linecap="butt"/>
<line x1="961.30" y1="758.80" x2="969.20" y2="758.80" stroke="#000" stroke-width="3.0" stroke-linecap="butt"/>
<line x1="961.30" y1="743.20" x2="969.20" y2="743.20" stroke="#000" stroke-width="3.0" stroke-linecap="butt"/>
<line x1="956.70" y1="727.60" x2="969.20" y2="727.60" stroke="#000" stroke-width="3.5" stroke-linecap="butt"/>
<line x1="961.30" y1="712.00" x2="969.20" y2="712.00" stroke="#000" stroke-width="3.0" stroke-linecap="butt"/>
<line x1="961.30" y1="696.40" x2="969.20" y2="696.40" stroke="#000" stroke-width="3.0" stroke-linecap="butt"/>
<line x1="961.30" y1="680.80" x2="969.20" y2="680.80" stroke="#000" stroke-width="3.0" stroke-linecap="butt"/>
<line x1="961.30" y1="665.20" x2="969.20" y2="665.20" stroke="#000" stroke-width="3.0" stroke-linecap="butt"/>
<line x1="956.70" y1="649.60" x2="969.20" y2="649.60" stroke="#000" stroke-width="3.5" stroke-linecap="butt"/>
<line x1="1016.70" y1="771.90" x2="1016.70" y2="782.05" stroke="#000" stroke-width="5.3" stroke-linecap="butt"/>
<line x1="1001.85" y1="771.90" x2="1031.55" y2="771.90" stroke="#000" stroke-width="5.3" stroke-linecap="round"/>
<rect x="986.45" y="782.05" width="60.50" height="257.55" fill="#d3d3d3"/>
<path d="M986.45,1039.60 V782.05 H1046.95 V1039.60" fill="none" stroke="#000" stroke-width="5.3" stroke-linejoin="round"/>
<line x1="1016.70" y1="1039.60" x2="1016.70" y2="1043.80" stroke="#000" stroke-width="2.8" stroke-linecap="butt"/>
<line x1="1114.40" y1="721.00" x2="1114.40" y2="754.65" stroke="#000" stroke-width="5.3" stroke-linecap="butt"/>
<line x1="1099.55" y1="721.00" x2="1129.25" y2="721.00" stroke="#000" stroke-width="5.3" stroke-linecap="round"/>
<rect x="1084.15" y="754.65" width="60.50" height="284.95" fill="#ece7cb"/>
<path d="M1084.15,1039.60 V754.65 H1144.65 V1039.60" fill="none" stroke="#000" stroke-width="5.3" stroke-linejoin="round"/>
<line x1="1114.40" y1="1039.60" x2="1114.40" y2="1043.80" stroke="#000" stroke-width="2.8" stroke-linecap="butt"/>
<line x1="1212.20" y1="735.60" x2="1212.20" y2="762.35" stroke="#000" stroke-width="5.3" stroke-linecap="butt"/>
<line x1="1197.35" y1="735.60" x2="1227.05" y2="735.60" stroke="#000" stroke-width="5.3" stroke-linecap="round"/>
<rect x="1181.95" y="762.35" width="60.50" height="277.25" fill="#ffdfc1"/>
<path d="M1181.95,1039.60 V762.35 H1242.45 V1039.60" fill="none" stroke="#000" stroke-width="5.3" stroke-linejoin="round"/>
<line x1="1212.20" y1="1039.60" x2="1212.20" y2="1043.80" stroke="#000" stroke-width="2.8" stroke-linecap="butt"/>
<line x1="1310.00" y1="782.50" x2="1310.00" y2="792.85" stroke="#000" stroke-width="5.3" stroke-linecap="butt"/>
<line x1="1295.15" y1="782.50" x2="1324.85" y2="782.50" stroke="#000" stroke-width="5.3" stroke-linecap="round"/>
<rect x="1279.75" y="792.85" width="60.50" height="246.75" fill="#c4954f"/>
<path d="M1279.75,1039.60 V792.85 H1340.25 V1039.60" fill="none" stroke="#000" stroke-width="5.3" stroke-linejoin="round"/>
<line x1="1310.00" y1="1039.60" x2="1310.00" y2="1043.80" stroke="#000" stroke-width="2.8" stroke-linecap="butt"/>
<line x1="956.70" y1="1039.60" x2="1359.00" y2="1039.60" stroke="#000" stroke-width="3.5" stroke-linecap="butt"/>
<text transform="translate(951.11,1052.42) scale(0.9770,1)" text-anchor="end" font-weight="bold" font-size="37.60">0</text>
<text transform="translate(951.16,974.42) scale(0.9770,1)" text-anchor="end" font-weight="bold" font-size="37.60">10</text>
<text transform="translate(951.16,896.42) scale(0.9770,1)" text-anchor="end" font-weight="bold" font-size="37.60">20</text>
<text transform="translate(951.16,818.42) scale(0.9770,1)" text-anchor="end" font-weight="bold" font-size="37.60">30</text>
<text transform="translate(951.16,740.42) scale(0.9770,1)" text-anchor="end" font-weight="bold" font-size="37.60">40</text>
<text transform="translate(951.16,662.42) scale(0.9770,1)" text-anchor="end" font-weight="bold" font-size="37.60">50</text>
<text transform="translate(889.98,1023.71) rotate(-90) scale(1,1.0587)" font-weight="bold" font-size="35.67">Plasma TNF-α , pg/ml</text>
<rect x="1398.40" y="606.90" width="41.90" height="21.20" fill="#d3d3d3" stroke="#000" stroke-width="5.3" stroke-linejoin="round"/>
<text transform="translate(1463.61,627.30) scale(1.0102,1)" font-weight="bold" font-size="31.83" fill="#000" >G30</text>
<rect x="1398.40" y="646.00" width="41.90" height="21.20" fill="#ece7cb" stroke="#000" stroke-width="5.3" stroke-linejoin="round"/>
<text transform="translate(1463.63,666.48) scale(0.9920,1)" font-weight="bold" font-size="31.94" fill="#000" >G109</text>
<rect x="1398.40" y="686.40" width="41.90" height="21.20" fill="#ffdfc1" stroke="#000" stroke-width="5.3" stroke-linejoin="round"/>
<text transform="translate(1464.35,706.80) scale(0.9550,1)" font-weight="bold" font-size="31.83" fill="#000" >L3</text>
<rect x="1398.40" y="725.80" width="41.90" height="21.20" fill="#c4954f" stroke="#000" stroke-width="5.3" stroke-linejoin="round"/>
<text transform="translate(1464.35,746.60) scale(0.9255,1)" font-weight="bold" font-size="32.87" fill="#000" >L14</text>
</svg>
</body></html>
